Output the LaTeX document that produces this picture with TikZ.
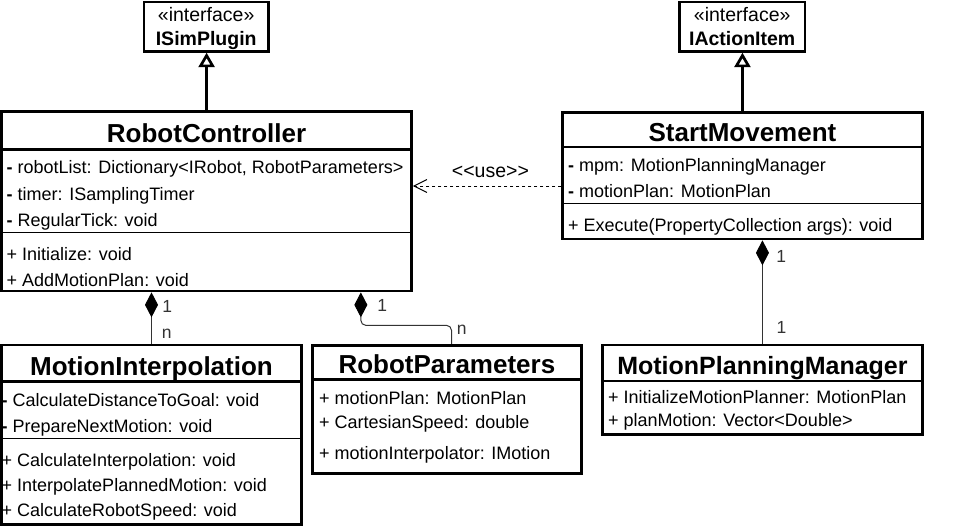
\documentclass[tikz,border=0pt]{standalone}
\usepackage{fontspec}
\setmainfont{Liberation Sans}[Ligatures=TeXOff]
\usetikzlibrary{arrows.meta}
\begin{document}
\begin{tikzpicture}[x=1pt,y=-1pt]

% page in pixels
\useasboundingbox (0,0) rectangle (963,528);

% struts for one member row and one interface row
\def\rs{\rule[-5.5pt]{0pt}{24pt}}
\def\is{\rule[-5pt]{0pt}{24pt}}
% width of the frames
\def\lw{2.7pt}
% node style definition
\tikzstyle{classbox} = [draw, line width=\lw, rectangle, inner sep=0pt];
\tikzstyle{iface} = [classbox, align=center,
	font=\fontsize{19.5}{24}\selectfont];
\tikzstyle{classname} = [inner sep=0pt, anchor=base,
	font=\bfseries\fontsize{26}{26}\selectfont];
\tikzstyle{members} = [inner sep=0pt, anchor=north west, align=left,
	font=\fontsize{18}{26}\selectfont];
\tikzstyle{titlebar} = [line width=\lw];
\tikzstyle{divider} = [line width=1pt];
\tikzstyle{mult} = [inner sep=0pt, anchor=base west, text=black!80,
	font=\fontsize{17.5}{17.5}\selectfont];
\tikzstyle{inherits} = [-{Triangle[open,length=14.5pt,width=16pt]}, line width=\lw];
\tikzstyle{composition} = [{Diamond[length=25pt,width=13pt,color=black,fill=black]}-,
	line width=1pt, draw=black!80];
\tikzstyle{usedep} = [-{Straight Barb[length=13pt,width=13pt]}, line width=1pt,
	dash pattern=on 3pt off 3pt];

% interfaces
\node[iface, minimum width=124.3pt, minimum height=49.3pt] (isim) at (206.2,26.7)
	{\is«interface»\\\is\textbf{ISimPlugin}};
\node[iface, minimum width=125.7pt, minimum height=49.3pt] (iai) at (742.2,26.7)
	{\is«interface»\\\is\textbf{IActionItem}};

% RobotController
\draw[titlebar] (1.7,149.7) -- (411.5,149.7);
\draw[divider] (1.7,232.3) -- (411.5,232.3);
\node[classbox, minimum width=409.8pt, minimum height=179.3pt] (rc) at (206.6,201.35) {};
\node[classname] (rc-name) at (206.6,142.7) {RobotController};
\node[members] (rc-attr) at (6.5,154.8)
	{\rs\textbf{-} robotList: Dictionary<IRobot, RobotParameters>\\[0.7pt]
	 \rs\textbf{-} timer: ISamplingTimer\\[0.7pt]
	 \rs\textbf{-} RegularTick: void};
\node[members] (rc-ops) at (6.5,242)
	{\rs+ Initialize: void\\\rs+ AddMotionPlan: void};

% StartMovement
\draw[titlebar] (562.7,147) -- (922.2,147);
\draw[divider] (562.7,203.3) -- (922.2,203.3);
\node[classbox, minimum width=359.5pt, minimum height=126.7pt] (sm) at (742.45,175.65) {};
\node[classname] (sm-name) at (742.45,141.7) {StartMovement};
\node[members] (sm-attr) at (568,152.5)
	{\rs\textbf{-} mpm: MotionPlanningManager\\[0.5pt]
	 \rs\textbf{-} motionPlan: MotionPlan};
\node[members] (sm-ops) at (568,212.5)
	{\rs+ Execute(PropertyCollection args): void};

% MotionInterpolation
\draw[titlebar] (1.3,381.7) -- (301.7,381.7);
\draw[divider] (1.3,438.3) -- (301.7,438.3);
\node[classbox, minimum width=300.4pt, minimum height=179.3pt] (mi) at (151.5,434.65) {};
\node[classname] (mi-name) at (151.5,375) {MotionInterpolation};
\node[members] (mi-attr) at (1.5,387.5)
	{\rs\textbf{-} CalculateDistanceToGoal: void\\
	 \rs\textbf{-} PrepareNextMotion: void};
\node[members] (mi-ops) at (1.5,448)
	{\rs+ CalculateInterpolation: void\\[-1pt]
	 \rs+ InterpolatePlannedMotion: void\\[-1pt]
	 \rs+ CalculateRobotSpeed: void};

% RobotParameters
\draw[titlebar] (312.3,379.3) -- (581.5,379.3);
\node[classbox, minimum width=269.2pt, minimum height=128pt] (rp) at (446.9,409.3) {};
\node[classname] (rp-name) at (446.9,373.3) {RobotParameters};
\node[members] (rp-attr) at (319,386)
	{\rs+ motionPlan: MotionPlan\\[-2.3pt]
	 \rs+ CartesianSpeed: double\\[4.6pt]
	 \rs+ motionInterpolator: IMotion};

% MotionPlanningManager
\draw[titlebar] (602.7,381) -- (922.2,381);
\node[classbox, minimum width=319.5pt, minimum height=89.3pt] (mpm) at (762.45,389.65) {};
\node[classname, font=\bfseries\fontsize{25}{25}\selectfont] (mpm-name) at (762.45,374)
	{MotionPlanningManager};
\node[members] (mpm-ops) at (608,384.7)
	{\rs+ InitializeMotionPlanner: MotionPlan\\[-2.7pt]
	 \rs+ planMotion: Vector<Double>};

% generalization
\draw[inherits] (rc.north) -- (rc.north |- isim.south);
\draw[inherits] (sm.north) -- (sm.north |- iai.south);

% dependency
\coordinate (use-start) at ([yshift=-10.35pt]sm.west);
\draw[usedep] (use-start) -- (use-start -| rc.east)
	node[midway, above=8pt, xshift=3.3pt, inner sep=0pt,
	font=\fontsize{19.5}{19.5}\selectfont] (use-label) {<<use>>};

% compositions
\draw[composition] (mi.north |- rc.south) -- (mi.north);
\draw[composition, rounded corners=5pt] ([xshift=154.25pt]rc.south) -- ++(0,33)
	-| ([xshift=4.6pt]rp.north);
\draw[composition] (mpm.north |- sm.south) -- (mpm.north);

\node[mult] (mi-one) at (162.2,312) {1};
\node[mult] (mi-n) at (161.6,338) {n};
\node[mult] (rp-one) at (377.2,311.7) {1};
\node[mult] (rp-n) at (456.6,334) {n};
\node[mult] (mpm-one-a) at (776.2,262.3) {1};
\node[mult] (mpm-one-b) at (776.5,333.3) {1};

\end{tikzpicture}
\end{document}
